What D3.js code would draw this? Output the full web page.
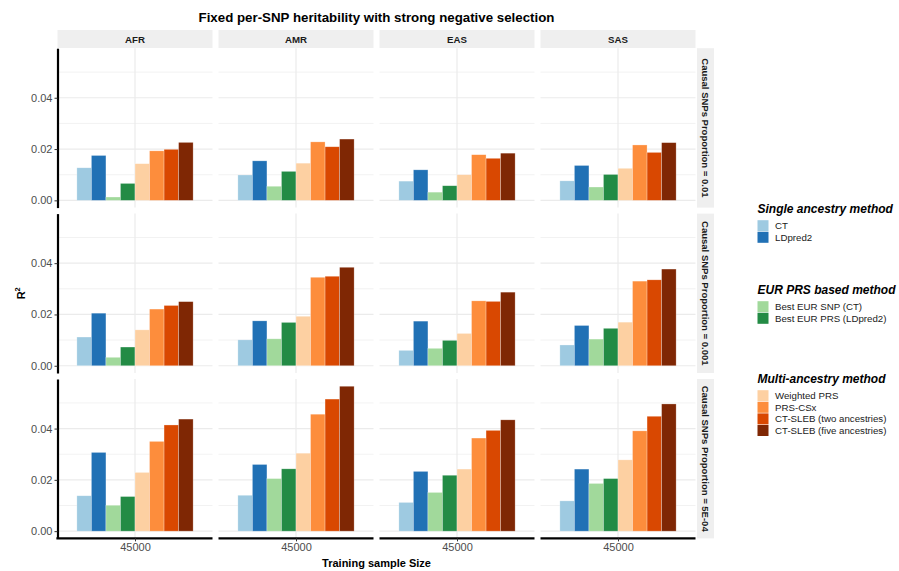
<!DOCTYPE html>
<html lang="en">
<head>
<meta charset="UTF-8">
<title>Fixed per-SNP heritability</title>
<script src="https://cdnjs.cloudflare.com/ajax/libs/d3/7.8.4/d3.min.js"></script>
<style>
  body { margin: 0; background: #fff; }
  svg { font-family: "Liberation Sans", Arial, Helvetica, sans-serif; }
</style>
</head>
<body>
<div id="chart"></div>
<script>
// ---- data ----
const ancestries = ["AFR", "AMR", "EAS", "SAS"];
const proportions = ["0.01", "0.001", "5E-04"];
const sampleSizes = ["45000"];
const methods = ["CT", "LDpred2", "Best EUR SNP (CT)", "Best EUR PRS (LDpred2)",
  "Weighted PRS", "PRS-CSx", "CT-SLEB (two ancestries)", "CT-SLEB (five ancestries)"];
const methodColors = ["#9ecae1", "#2171b5", "#a1d99b", "#238b45",
  "#fdd0a2", "#fd8d3c", "#d94801", "#7f2704"];
const legendTitles = ["Single ancestry method", "EUR PRS based method", "Multi-ancestry method"];
const legendMembers = [[0, 1], [2, 3], [4, 5, 6, 7]];
const yTicks = [0, 0.02, 0.04];
const yMinor = [0.01, 0.03, 0.05];

// R2 per ancestry (AFR, AMR, EAS, SAS), methods in the order above
const r2Prop0_01 = [
  [0.0127, 0.0175, 0.0013, 0.0066, 0.0143, 0.0193, 0.0199, 0.0226],
  [0.0099, 0.0154, 0.0055, 0.0113, 0.0145, 0.0228, 0.0209, 0.0239],
  [0.0075, 0.0119, 0.0032, 0.0057, 0.0100, 0.0178, 0.0164, 0.0184],
  [0.0076, 0.0136, 0.0052, 0.0101, 0.0125, 0.0216, 0.0187, 0.0225]
];
const r2Prop0_001 = [
  [0.0112, 0.0205, 0.0033, 0.0073, 0.0140, 0.0221, 0.0235, 0.0250],
  [0.0101, 0.0175, 0.0105, 0.0169, 0.0193, 0.0345, 0.0349, 0.0384],
  [0.0060, 0.0174, 0.0068, 0.0099, 0.0126, 0.0253, 0.0251, 0.0287],
  [0.0081, 0.0157, 0.0104, 0.0146, 0.0170, 0.0330, 0.0335, 0.0377]
];
const r2Prop5e4 = [
  [0.0138, 0.0307, 0.0101, 0.0135, 0.0229, 0.0350, 0.0414, 0.0437],
  [0.0140, 0.0260, 0.0205, 0.0243, 0.0304, 0.0456, 0.0515, 0.0565],
  [0.0112, 0.0233, 0.0151, 0.0218, 0.0242, 0.0363, 0.0393, 0.0434],
  [0.0118, 0.0242, 0.0186, 0.0205, 0.0278, 0.0391, 0.0448, 0.0496]
];
const rows = [r2Prop0_01, r2Prop0_001, r2Prop5e4];

// ---- layout ----
const W = 899, H = 571;
const x0 = 57.5, pw = 155, colGap = 6;
const y0 = 48.2, ph = 159.4, rowGap = 6;
const stripH = 18;

const svg = d3.select("#chart").append("svg").attr("width", W).attr("height", H);

const maxV = d3.max(rows.flat(2));
const y = d3.scaleLinear().domain([-maxV * 0.05, maxV * 1.05]).range([ph, 0]);
const xOuter = d3.scalePoint().domain(sampleSizes).range([0, pw]).padding(0.5);
const xInner = d3.scaleBand().domain(methods)
  .range([xOuter("45000") - 0.375 * pw, xOuter("45000") + 0.375 * pw]);
const color = d3.scaleOrdinal().domain(methods).range(methodColors);

// title
svg.append("text")
  .attr("x", x0 + (4 * pw + 3 * colGap) / 2).attr("y", 17)
  .attr("text-anchor", "middle").attr("dominant-baseline", "central")
  .attr("font-size", 13.3).attr("font-weight", "bold").attr("fill", "#000")
  .text("Fixed per-SNP heritability with strong negative selection");

// top strips
ancestries.forEach((a, ci) => {
  const px = x0 + ci * (pw + colGap);
  svg.append("rect").attr("x", px).attr("y", 30).attr("width", pw).attr("height", stripH)
    .attr("fill", "#efefef");
  svg.append("text").attr("x", px + pw / 2).attr("y", 30 + stripH / 2)
    .attr("text-anchor", "middle").attr("dominant-baseline", "central")
    .attr("font-size", 9.7).attr("font-weight", "bold").attr("fill", "#1a1a1a").text(a);
});

rows.forEach((rowData, ri) => {
  const py = y0 + ri * (ph + rowGap);

  // right strip
  const sx = x0 + 4 * pw + 3 * colGap + 1.5;
  svg.append("rect").attr("x", sx).attr("y", py).attr("width", 17).attr("height", ph)
    .attr("fill", "#efefef");
  svg.append("text")
    .attr("transform", `translate(${sx + 8.5},${py + ph / 2}) rotate(90)`)
    .attr("text-anchor", "middle").attr("dominant-baseline", "central")
    .attr("font-size", 9.5).attr("font-weight", "bold").attr("fill", "#1a1a1a")
    .text("Causal SNPs Proportion = " + proportions[ri]);

  rowData.forEach((vals, ci) => {
    const px = x0 + ci * (pw + colGap);
    const g = svg.append("g").attr("transform", `translate(${px},${py})`);

    // grid
    g.selectAll(".minor").data(yMinor).enter().append("line")
      .attr("x1", 0).attr("x2", pw).attr("y1", d => y(d)).attr("y2", d => y(d))
      .attr("stroke", "#f0f0f0").attr("stroke-width", 0.9);
    g.selectAll(".major").data(yTicks).enter().append("line")
      .attr("x1", 0).attr("x2", pw).attr("y1", d => y(d)).attr("y2", d => y(d))
      .attr("stroke", "#ebebeb").attr("stroke-width", 1.2);
    g.append("line")
      .attr("x1", xOuter("45000")).attr("x2", xOuter("45000")).attr("y1", 0).attr("y2", ph)
      .attr("stroke", "#ebebeb").attr("stroke-width", 1.2);

    // bars
    g.selectAll("rect.bar").data(vals).enter().append("rect")
      .attr("class", "bar")
      .attr("x", (d, i) => xInner(methods[i]))
      .attr("width", xInner.bandwidth())
      .attr("y", d => y(d))
      .attr("height", d => y(0) - y(d))
      .attr("fill", (d, i) => color(methods[i]))
      .attr("stroke", "#ffffff").attr("stroke-opacity", 0.45).attr("stroke-width", 0.6);

    // y axis on first column
    if (ci === 0) {
      const ax = g.append("g")
        .call(d3.axisLeft(y).tickValues(yTicks).tickFormat(d3.format(".2f"))
          .tickSize(3).tickSizeOuter(0).tickPadding(2));
      ax.select(".domain").attr("stroke", "#000").attr("stroke-width", 2.2);
      ax.selectAll(".tick line").attr("stroke", "#333").attr("stroke-width", 1);
      ax.selectAll("text").attr("font-size", 11).attr("fill", "#4d4d4d")
        .attr("font-family", "Liberation Sans, Arial, sans-serif");
    }
    // x axis on last row
    if (ri === rows.length - 1) {
      const ax = g.append("g").attr("transform", `translate(0,${ph})`)
        .call(d3.axisBottom(xOuter).tickSize(3).tickSizeOuter(0).tickPadding(2));
      ax.select(".domain").attr("stroke", "#000").attr("stroke-width", 2.2)
        .attr("d", ci === 0 ? `M-1.1,0H${pw}` : `M0,0H${pw}`);
      ax.selectAll(".tick line").attr("stroke", "#333").attr("stroke-width", 1);
      ax.selectAll("text").attr("font-size", 11).attr("fill", "#4d4d4d")
        .attr("font-family", "Liberation Sans, Arial, sans-serif");
    }
  });
});

// axis titles
svg.append("text")
  .attr("x", x0 + (4 * pw + 3 * colGap) / 2).attr("y", 563)
  .attr("text-anchor", "middle").attr("dominant-baseline", "central")
  .attr("font-size", 11).attr("font-weight", "bold").attr("fill", "#000")
  .text("Training sample Size");
const yl = svg.append("text")
  .attr("transform", `translate(21,${y0 + 1.5 * ph + rowGap})rotate(-90)`)
  .attr("text-anchor", "middle").attr("dominant-baseline", "central")
  .attr("font-size", 11).attr("font-weight", "bold").attr("fill", "#000");
yl.append("tspan").text("R");
yl.append("tspan").attr("font-size", 7.5).attr("dy", -4).text("2");

// legend
const legTitleY = [208.5, 289.5, 378.5];
const legX = 757.5, keyPitch = 11.6, keySize = 11;
legendTitles.forEach((t, gi) => {
  const lg = svg.append("g");
  lg.append("text").attr("x", legX).attr("y", legTitleY[gi])
    .attr("dominant-baseline", "central")
    .attr("font-size", 12).attr("font-weight", "bold").attr("font-style", "italic")
    .attr("fill", "#000").text(t);
  legendMembers[gi].forEach((mi, k) => {
    const ky = legTitleY[gi] + 11.7 + k * keyPitch;
    lg.append("rect").attr("x", legX).attr("y", ky).attr("width", keySize).attr("height", keySize)
      .attr("fill", methodColors[mi]);
    lg.append("text").attr("x", legX + 17.5).attr("y", ky + keySize / 2)
      .attr("dominant-baseline", "central")
      .attr("font-size", 9.7).attr("fill", "#1a1a1a").text(methods[mi]);
  });
});
</script>
</body>
</html>
